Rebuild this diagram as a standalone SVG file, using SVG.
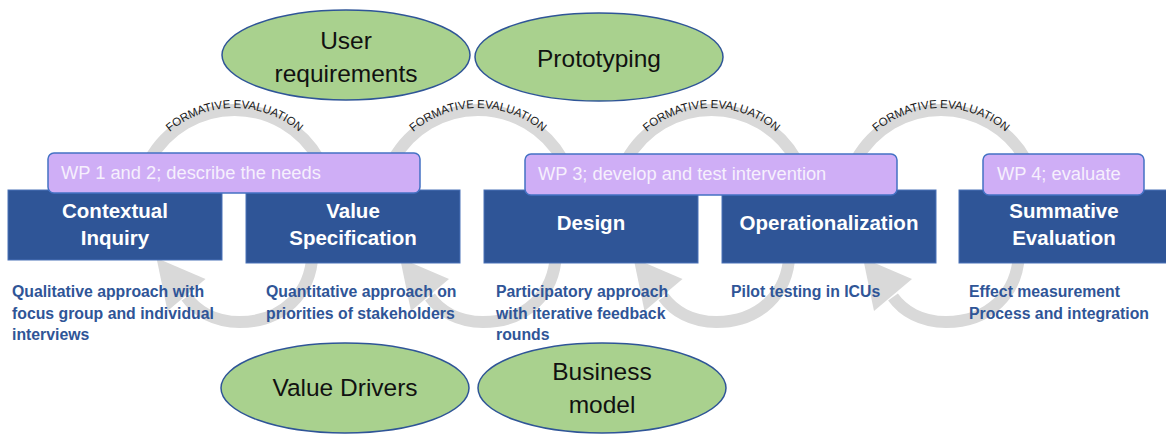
<svg xmlns="http://www.w3.org/2000/svg" xmlns:xlink="http://www.w3.org/1999/xlink" width="1166" height="434" viewBox="0 0 1166 434">
<style>
.arc{fill:none;stroke:#d9d9d9;stroke-width:12}
.head{fill:#d9d9d9}
.fe{font-family:"Liberation Sans",Arial,sans-serif;font-size:11.5px;fill:#1a1a1a}
.box{fill:#2f5597;stroke:#4a72b8;stroke-width:1}
.bt{font-family:"Liberation Sans",Arial,sans-serif;font-size:20.5px;font-weight:bold;fill:#ffffff;text-anchor:middle}
.wp{fill:#cfaef6;stroke:#4472c4;stroke-width:1.5}
.wt{font-family:"Liberation Sans",Arial,sans-serif;font-size:18.3px;fill:#f6f0fd}
.ell{fill:#a9d18e;stroke:#2f5597;stroke-width:1.5}
.et{font-family:"Liberation Sans",Arial,sans-serif;font-size:24.5px;fill:#111111;text-anchor:middle}
.dt{font-family:"Liberation Sans",Arial,sans-serif;font-size:15.8px;font-weight:bold;fill:#2f5597}
</style>
<defs>
<path id="tp" d="M -99 207 A 99 99 0 0 1 99 207"/>
<g id="loop">
<path class="arc" d="M -84.85 160 A 97 97 0 0 1 84.85 160"/>
<path class="arc" d="M 78 245 C 80 296 45 322 5 322 C -20 322 -38 311 -48 297"/>
<polygon class="head" points="-78,258 -29,279 -67,311"/>
</g>
</defs>
<g id="connectors">
<g id="loop1" transform="translate(234.5,0)"><use xlink:href="#loop"/><text class="fe"><textPath xlink:href="#tp" startOffset="50%" text-anchor="middle">FORMATIVE EVALUATION</textPath></text></g>
<g id="loop2" transform="translate(478,0)"><use xlink:href="#loop"/><text class="fe"><textPath xlink:href="#tp" startOffset="50%" text-anchor="middle">FORMATIVE EVALUATION</textPath></text></g>
<g id="loop3" transform="translate(711.5,0)"><use xlink:href="#loop"/><text class="fe"><textPath xlink:href="#tp" startOffset="50%" text-anchor="middle">FORMATIVE EVALUATION</textPath></text></g>
<g id="loop4" transform="translate(941,0)"><use xlink:href="#loop"/><text class="fe"><textPath xlink:href="#tp" startOffset="50%" text-anchor="middle">FORMATIVE EVALUATION</textPath></text></g>
</g>
<g id="contextual-inquiry"><rect class="box" x="8" y="190" width="214" height="70"/><text class="bt" x="115" y="218">Contextual</text><text class="bt" x="115" y="245">Inquiry</text></g>
<g id="value-specification"><rect class="box" x="246" y="190" width="214" height="73"/><text class="bt" x="353" y="218">Value</text><text class="bt" x="353" y="245">Specification</text></g>
<g id="design"><rect class="box" x="484" y="190" width="214" height="73"/><text class="bt" x="591" y="230">Design</text></g>
<g id="operationalization"><rect class="box" x="722" y="190" width="214" height="73"/><text class="bt" x="829" y="230">Operationalization</text></g>
<g id="summative-evaluation"><rect class="box" x="959" y="190" width="212" height="73"/><text class="bt" x="1064" y="218">Summative</text><text class="bt" x="1064" y="245">Evaluation</text></g>
<g id="wp12"><rect class="wp" x="48" y="153" width="372" height="40" rx="6"/><text class="wt" x="61" y="179">WP 1 and 2; describe the needs</text></g>
<g id="wp3"><rect class="wp" x="525" y="154" width="372" height="41" rx="6"/><text class="wt" x="538" y="180">WP 3; develop and test intervention</text></g>
<g id="wp4"><rect class="wp" x="983" y="154" width="161" height="41" rx="6"/><text class="wt" x="997" y="180">WP 4; evaluate</text></g>
<g id="user-requirements"><ellipse class="ell" cx="346" cy="55" rx="124" ry="45"/><text class="et" x="346" y="49">User</text><text class="et" x="346" y="82">requirements</text></g>
<g id="prototyping"><ellipse class="ell" cx="599" cy="57" rx="124" ry="44"/><text class="et" x="599" y="67">Prototyping</text></g>
<g id="value-drivers"><ellipse class="ell" cx="345" cy="388" rx="124" ry="45"/><text class="et" x="345" y="396">Value Drivers</text></g>
<g id="business-model"><ellipse class="ell" cx="602" cy="388" rx="124" ry="45"/><text class="et" x="602" y="380">Business</text><text class="et" x="602" y="413">model</text></g>
<g id="desc-contextual"><text class="dt" x="12" y="297">Qualitative approach with</text><text class="dt" x="12" y="318.5">focus group and individual</text><text class="dt" x="12" y="340">interviews</text></g>
<g id="desc-value"><text class="dt" x="266" y="297">Quantitative approach on</text><text class="dt" x="266" y="318.5">priorities of stakeholders</text></g>
<g id="desc-design"><text class="dt" x="496" y="297">Participatory approach</text><text class="dt" x="496" y="318.5">with iterative feedback</text><text class="dt" x="496" y="340">rounds</text></g>
<g id="desc-operationalization"><text class="dt" x="731" y="297">Pilot testing in ICUs</text></g>
<g id="desc-summative"><text class="dt" x="969" y="297">Effect measurement</text><text class="dt" x="969" y="318.5">Process and integration</text></g>
</svg>
